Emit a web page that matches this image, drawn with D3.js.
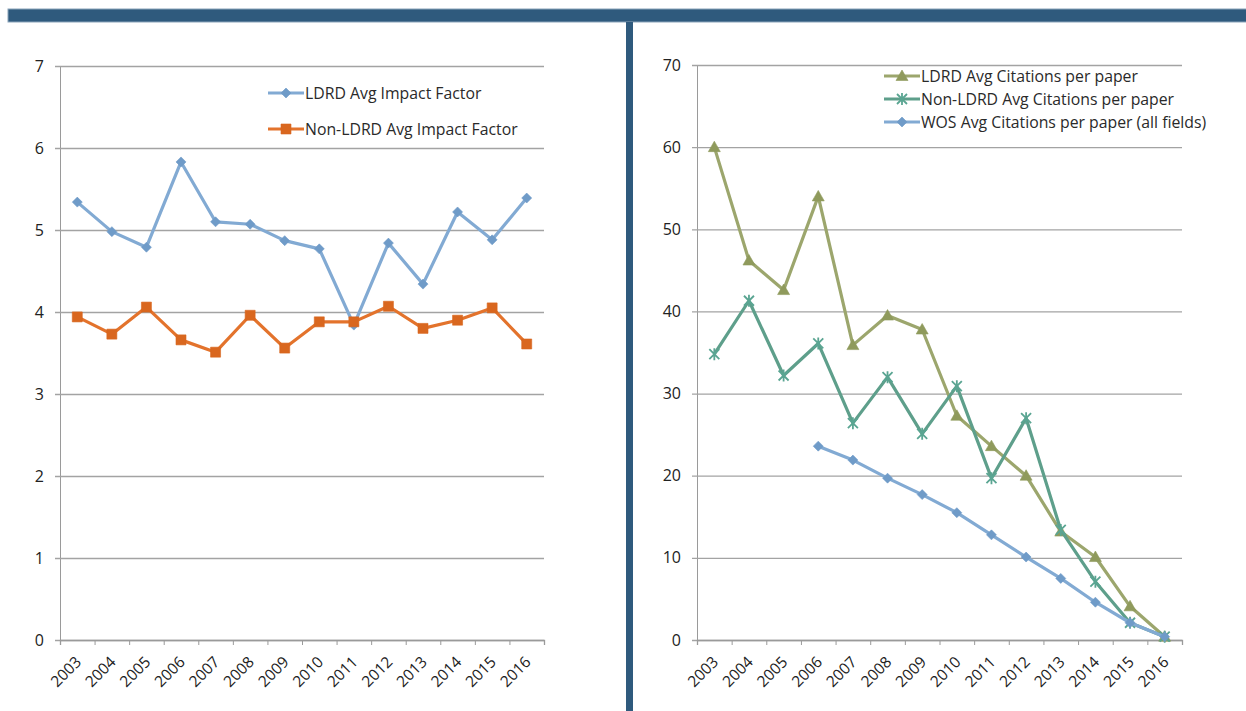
<!DOCTYPE html>
<html>
<head>
<meta charset="utf-8">
<script src="https://cdn.jsdelivr.net/npm/d3@7"></script>
<style>
  body { margin: 0; background: #fff; }
  svg { display: block; font-family: "Open Sans", Lato, sans-serif; }
</style>
</head>
<body>
<svg id="chart" width="1246" height="711"></svg>
<script>
const years = ["2003","2004","2005","2006","2007","2008","2009","2010","2011","2012","2013","2014","2015","2016"];

// left panel: impact factor
const ldrdImpact    = [5.34, 4.98, 4.79, 5.83, 5.10, 5.07, 4.87, 4.77, 3.84, 4.84, 4.34, 5.22, 4.88, 5.39];
const nonLdrdImpact = [3.94, 3.73, 4.06, 3.66, 3.51, 3.96, 3.56, 3.88, 3.88, 4.07, 3.80, 3.90, 4.05, 3.61];

// right panel: citations per paper (WOS starts 2006)
const ldrdCites    = [60.0, 46.2, 42.6, 54.0, 35.9, 39.5, 37.8, 27.3, 23.6, 20.0, 13.2, 10.1, 4.1, 0.4];
const nonLdrdCites = [34.8, 41.3, 32.2, 36.1, 26.4, 32.0, 25.1, 30.9, 19.7, 27.0, 13.4, 7.1, 2.1, 0.4];
const wosCites     = [null, null, null, 23.6, 21.9, 19.7, 17.7, 15.5, 12.8, 10.1, 7.5, 4.6, 2.1, 0.4];

const leftTicks = [0, 1, 2, 3, 4, 5, 6, 7];
const rightTicks = [0, 10, 20, 30, 40, 50, 60, 70];

const svg = d3.select("#chart");

// frame bars
svg.append("rect").attr("x", 8).attr("y", 9).attr("width", 1246).attr("height", 13)
    .attr("fill", "#2f5a7d").attr("stroke", "#8aa3ba").attr("stroke-width", 1);
svg.append("rect").attr("x", 626).attr("y", 22).attr("width", 7).attr("height", 700)
    .attr("fill", "#2f5a7d");

function drawPanel(opt) {
    const g = svg.append("g");
    const x = d3.scaleBand().domain(years).range([opt.x0, opt.x1]);
    const y = d3.scaleLinear().domain([0, opt.max]).range([640, opt.top]);
    const w = opt.x1 - opt.x0;

    // grid + y ticks
    const yAx = g.append("g")
        .attr("transform", `translate(${opt.x0},0)`)
        .call(d3.axisLeft(y).tickValues(opt.ticks).tickFormat(d3.format("d")).tickSize(5).tickPadding(11));
    yAx.attr("font-family", null).attr("font-size", 16);
    yAx.select(".domain").attr("stroke", "#9a9a9a");
    yAx.selectAll(".tick line").attr("x1", -5).attr("x2", w).attr("stroke", "#a3a3a3").attr("stroke-width", 1.3);
    yAx.selectAll(".tick text").attr("fill", "#222");

    // x axis tick marks between categories
    const xLin = d3.scaleLinear().domain([0, years.length]).range([opt.x0, opt.x1]);
    const xAx = g.append("g")
        .attr("transform", "translate(0,640)")
        .call(d3.axisBottom(xLin).ticks(years.length).tickSize(5).tickFormat(""));
    xAx.select(".domain").attr("stroke", "#9a9a9a").attr("stroke-width", 1.3);
    xAx.selectAll(".tick line").attr("stroke", "#9a9a9a");

    // rotated year labels
    g.selectAll(".yl").data(years).enter().append("text")
        .attr("class", "yl")
        .attr("text-anchor", "end")
        .attr("font-size", 15.5)
        .attr("fill", "#222")
        .attr("transform", d => `translate(${x(d) + x.bandwidth() / 2 + 5},${663}) rotate(-45)`)
        .text(d => d);

    // series
    opt.series.forEach(s => {
        const pts = s.values.map((v, i) => ({ year: years[i], v })).filter(p => p.v != null);
        const line = d3.line().x(p => x(p.year) + x.bandwidth() / 2).y(p => y(p.v));
        g.append("path").datum(pts)
            .attr("fill", "none").attr("stroke", s.color).attr("stroke-width", 3.2)
            .attr("stroke-linejoin", "round").attr("d", line);
        g.selectAll(null).data(pts).enter().append("path")
            .attr("transform", p => `translate(${x(p.year) + x.bandwidth() / 2},${y(p.v)})`)
            .attr("d", markerPath(s.marker))
            .attr("fill", s.marker === "star" ? "none" : s.mcolor)
            .attr("stroke", s.mcolor)
            .attr("stroke-width", s.marker === "star" ? 1.8 : 0.6);
    });

    // legend
    const lg = g.append("g");
    opt.series.forEach((s, i) => {
        const ly = opt.legend.y + i * opt.legend.dy;
        lg.append("line").attr("x1", opt.legend.x).attr("x2", opt.legend.x + 36)
            .attr("y1", ly).attr("y2", ly).attr("stroke", s.color).attr("stroke-width", 3.2);
        lg.append("path").attr("transform", `translate(${opt.legend.x + 18},${ly})`)
            .attr("d", markerPath(s.marker))
            .attr("fill", s.marker === "star" ? "none" : s.mcolor)
            .attr("stroke", s.mcolor).attr("stroke-width", s.marker === "star" ? 1.8 : 0.6);
        lg.append("text").attr("x", opt.legend.x + 37).attr("y", ly + 5.5)
            .attr("font-size", 15.8).attr("fill", "#2a2a2a").text(s.name);
    });
}

function markerPath(type) {
    if (type === "diamond") return "M0,-5L5,0L0,5L-5,0Z";
    if (type === "square") return "M-5,-5H5V5H-5Z";
    if (type === "triangle") return "M0,-6L6,4.5H-6Z";
    if (type === "star") return "M-5,-5L5,5M-5,5L5,-5M0,-6V6";
    return "";
}

drawPanel({
    x0: 60, x1: 544, top: 66, max: 7, ticks: leftTicks,
    legend: { x: 268, y: 93, dy: 36 },
    series: [
        { name: "LDRD Avg Impact Factor", values: ldrdImpact, color: "#82aad3", mcolor: "#6f9bc8", marker: "diamond" },
        { name: "Non-LDRD Avg Impact Factor", values: nonLdrdImpact, color: "#e3732c", mcolor: "#d9671f", marker: "square" }
    ]
});

drawPanel({
    x0: 697, x1: 1182, top: 65, max: 70, ticks: rightTicks,
    legend: { x: 884, y: 76, dy: 23 },
    series: [
        { name: "LDRD Avg Citations per paper", values: ldrdCites, color: "#9ca66d", mcolor: "#8f9a5c", marker: "triangle" },
        { name: "Non-LDRD Avg Citations per paper", values: nonLdrdCites, color: "#5e9f8b", mcolor: "#5aa592", marker: "star" },
        { name: "WOS Avg Citations per paper (all fields)", values: wosCites, color: "#82aad3", mcolor: "#6f9bc8", marker: "diamond" }
    ]
});
</script>
</body>
</html>
